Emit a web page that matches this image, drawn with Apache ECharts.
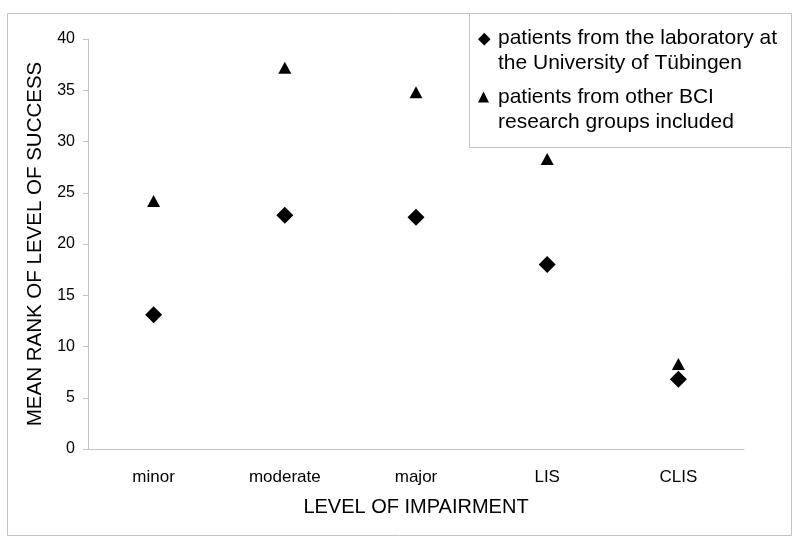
<!DOCTYPE html>
<html>
<head>
<meta charset="utf-8">
<script src="https://cdn.jsdelivr.net/npm/echarts@6/dist/echarts.min.js"></script>
<style>
  html, body { margin: 0; padding: 0; background: #fff; }
  #chart { width: 800px; height: 540px; }
</style>
</head>
<body>
<div id="chart"></div>
<script>
// categories on the x axis
const levels = ['minor', 'moderate', 'major', 'LIS', 'CLIS']
// mean rank values
const tuebingen = [13.1, 22.8, 22.6, 18.0, 6.8]
const otherGroups = [24.2, 37.2, 34.8, 28.3, 8.3]

const seriesNames = [
  'patients from the laboratory at\nthe University of Tübingen',
  'patients from other BCI\nresearch groups included'
]

const font = '"Liberation Sans", Arial, sans-serif'
const lineColor = '#c4c4c4'

// legend icons: visible shape at the top, a lone moveTo point pads the box
// so the icon lines up with the first text line
const diamondIcon = 'path://M6,-0.5 L12.5,6 L6,12.5 L-0.5,6 Z M15,36'
const triangleIcon = 'path://M5.5,0 L11,11 L0,11 Z M15,36'

const chart = echarts.init(document.getElementById('chart'))

const option = {
  animation: false,
  backgroundColor: '#fff',
  textStyle: { fontFamily: font, color: '#000' },
  graphic: [
    {
      type: 'rect',
      shape: { x: 7.5, y: 13.5, width: 784, height: 522 },
      style: { fill: 'none', stroke: lineColor, lineWidth: 1 },
      z: -1
    },
    {
      type: 'rect',
      shape: { x: 469.5, y: 13.5, width: 322, height: 134 },
      style: { fill: '#fff', stroke: lineColor, lineWidth: 1 },
      z: 5
    }
  ],
  grid: { left: 88, right: 56, top: 39, bottom: 91 },
  legend: {
    orient: 'vertical',
    left: 478,
    top: 26,
    padding: 0,
    itemGap: 10,
    itemWidth: 15,
    itemHeight: 36,
    z: 10,
    textStyle: { fontFamily: font, fontSize: 21, color: '#000', lineHeight: 24.5 },
    data: [
      { name: seriesNames[0], icon: diamondIcon },
      { name: seriesNames[1], icon: triangleIcon }
    ]
  },
  xAxis: {
    type: 'category',
    data: levels,
    name: 'LEVEL OF IMPAIRMENT',
    nameLocation: 'middle',
    nameGap: 48,
    nameTextStyle: { fontFamily: font, fontSize: 20, color: '#000' },
    axisLine: { lineStyle: { color: lineColor } },
    axisTick: { length: 5, lineStyle: { color: lineColor } },
    axisLabel: { fontFamily: font, fontSize: 17, color: '#000', margin: 20 },
    splitLine: { show: false }
  },
  yAxis: {
    type: 'value',
    min: 0,
    max: 40,
    interval: 5,
    name: 'MEAN RANK OF LEVEL OF SUCCESS',
    nameLocation: 'middle',
    nameGap: 38,
    nameTextStyle: { fontFamily: font, fontSize: 20.5, color: '#000' },
    axisLine: { show: true, lineStyle: { color: lineColor } },
    axisTick: { show: true, length: 5, lineStyle: { color: lineColor } },
    axisLabel: { fontFamily: font, fontSize: 16, color: '#000', margin: 13 },
    splitLine: { show: false }
  },
  series: [
    {
      name: seriesNames[0],
      type: 'scatter',
      symbol: 'diamond',
      symbolSize: [17, 17],
      itemStyle: { color: '#000', opacity: 1 },
      data: tuebingen
    },
    {
      name: seriesNames[1],
      type: 'scatter',
      symbol: 'triangle',
      symbolSize: [13, 12],
      itemStyle: { color: '#000', opacity: 1 },
      data: otherGroups
    }
  ]
}

chart.setOption(option)
</script>
</body>
</html>
